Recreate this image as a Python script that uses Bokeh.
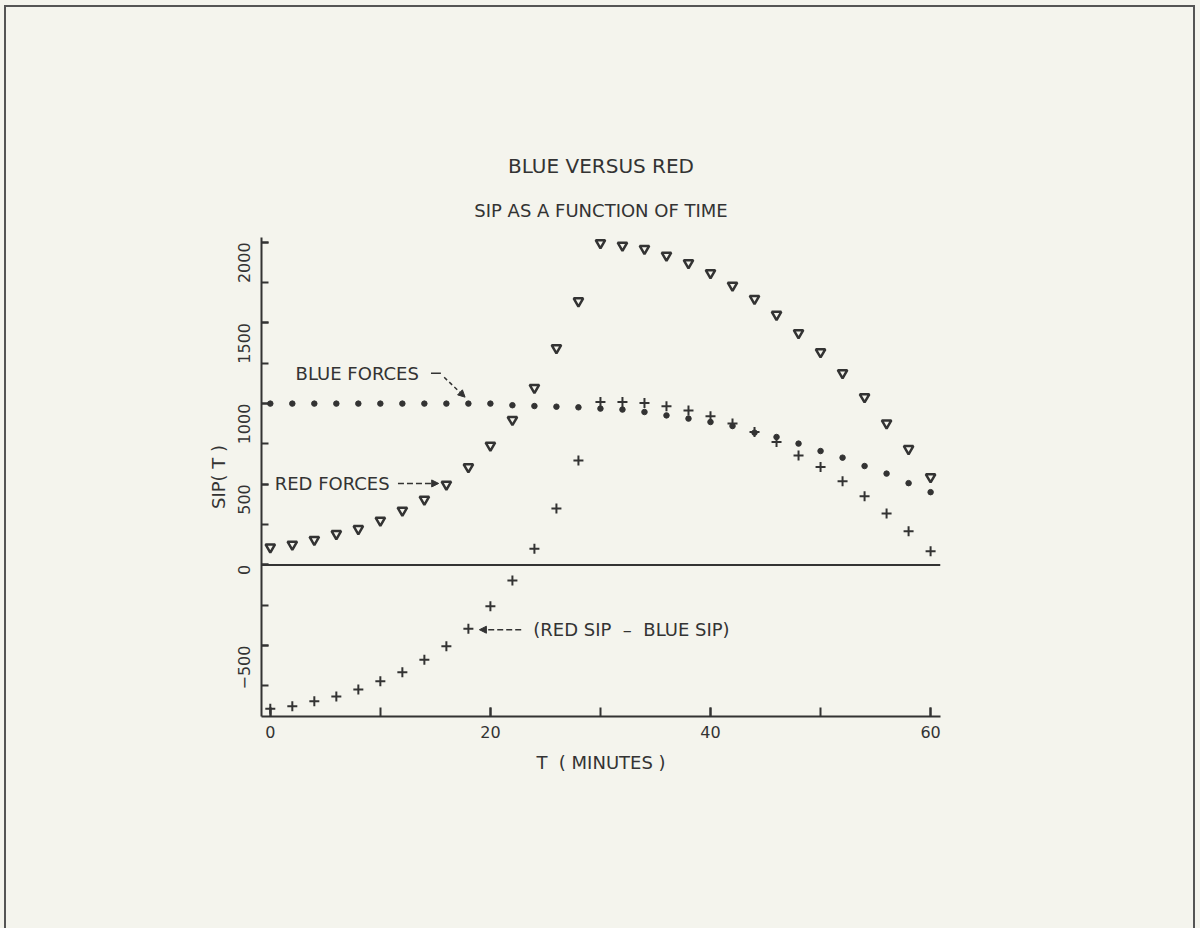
import math
from bokeh.plotting import figure
from bokeh.models import SingleIntervalTicker, Span, Label, Arrow, NormalHead, Range1d, Title
from bokeh.embed import file_html
from bokeh.resources import INLINE

# ---- data ----
t_minutes = [0, 2, 4, 6, 8, 10, 12, 14, 16, 18, 20, 22, 24, 26, 28, 30,
             32, 34, 36, 38, 40, 42, 44, 46, 48, 50, 52, 54, 56, 58, 60]
red_sip = [110, 127, 156, 193, 224, 276, 338, 406, 499, 607,
           741, 900, 1099, 1345, 1636,
           1996, 1981, 1961, 1919, 1872, 1810, 1733, 1651, 1552, 1438,
           1320, 1190, 1041, 879, 720, 545]
blue_sip = [1000, 1000, 1000, 1000, 1000, 1000, 1000, 1000, 1000, 1000, 1000,
            990, 985, 981, 977,
            969, 963, 948, 927, 907, 886, 861, 820, 793, 752,
            706, 665, 613, 566, 507, 451]
red_minus_blue = [-892, -876, -845, -816, -772, -721, -665, -588, -505, -396,
                  -257, -96, 100, 349, 648,
                  1010, 1010, 1004, 983, 958, 921, 876, 824, 762, 679,
                  607, 518, 425, 318, 208, 84]

INK = "#333333"
BG = "#f4f4ed"
FONT = "DejaVu Sans"

p = figure(width=1200, height=928, output_backend="svg", toolbar_location=None,
           x_range=Range1d(-0.8, 60.9), y_range=Range1d(-940, 2030),
           min_border_left=261, min_border_right=260,
           min_border_top=237, min_border_bottom=212)
p.background_fill_color = BG
p.border_fill_color = None
p.outline_line_color = None
p.grid.visible = False
p.styles = {
    "background-color": BG,
    "box-shadow": ("inset 4px 5px 0 0 %s, inset -5px 5px 0 0 %s, "
                   "inset 6px 7px 0 0 #555555, inset -7px 7px 0 0 #555555") % (BG, BG),
}

# axes
p.xaxis.ticker = SingleIntervalTicker(interval=20, num_minor_ticks=2)
p.yaxis.ticker = SingleIntervalTicker(interval=500, num_minor_ticks=2)
for ax in (p.xaxis[0], p.yaxis[0]):
    ax.axis_line_color = INK
    ax.axis_line_width = 2
    ax.major_tick_line_color = INK
    ax.minor_tick_line_color = INK
    ax.major_tick_line_width = 2
    ax.minor_tick_line_width = 2
    ax.major_tick_out = 0
    ax.minor_tick_out = 0
    ax.major_label_text_font = FONT
    ax.major_label_text_font_size = "16px"
    ax.major_label_text_color = INK
    ax.axis_label_text_font = FONT
    ax.axis_label_text_font_size = "18px"
    ax.axis_label_text_font_style = "normal"
    ax.axis_label_text_color = INK
p.xaxis.major_tick_in = 9
p.xaxis.minor_tick_in = 9
p.yaxis.major_tick_in = 7
p.yaxis.minor_tick_in = 7
p.yaxis.major_label_orientation = math.pi / 2
p.xaxis.major_label_standoff = 9
p.yaxis.major_label_standoff = 17
p.xaxis.axis_label = "T\u00a0\u00a0( MINUTES )"
p.yaxis.axis_label = "SIP( T )"
p.xaxis.axis_label_standoff = 11
p.yaxis.axis_label_standoff = 1

# titles (first added sits nearest the frame)
p.add_layout(Title(text="SIP AS A FUNCTION OF TIME", align="center", standoff=34,
                   text_font=FONT, text_font_size="18px", text_font_style="normal",
                   text_color=INK), "above")
p.add_layout(Title(text="BLUE VERSUS RED", align="center", standoff=6,
                   text_font=FONT, text_font_size="20px", text_font_style="normal",
                   text_color=INK), "above")

# zero line
p.add_layout(Span(location=0, dimension="width", line_color=INK, line_width=2))

# series
p.scatter(t_minutes, red_sip, marker="inverted_triangle", size=9.5,
          fill_color=BG, line_color=INK, line_width=2.5)
p.scatter(t_minutes, blue_sip, marker="circle", size=5.5,
          fill_color=INK, line_color=INK)
p.scatter(t_minutes, red_minus_blue, marker="cross", size=10,
          line_color=INK, line_width=2)

# annotations
def note(x, y, s):
    p.add_layout(Label(x=x, y=y, text=s, text_align="left", text_baseline="middle",
                       text_font=FONT, text_font_size="18px", text_color=INK))

def head():
    return NormalHead(size=7, fill_color=INK, line_color=INK)

note(2.3, 1188, "BLUE FORCES")
p.add_layout(Arrow(end=None, x_start=14.6, y_start=1188, x_end=15.5, y_end=1188,
                   line_color=INK, line_width=1.5))
p.add_layout(Arrow(end=head(), x_start=15.8, y_start=1163, x_end=17.7, y_end=1040,
                   line_color=INK, line_width=1.5, line_dash="4 3"))

note(0.4, 505, "RED FORCES")
p.add_layout(Arrow(end=head(), x_start=11.6, y_start=505, x_end=15.3, y_end=505,
                   line_color=INK, line_width=1.5, line_dash="6 3"))

note(23.9, -402, "(RED SIP\u00a0\u00a0\u2013\u00a0\u00a0BLUE SIP)")
p.add_layout(Arrow(end=head(), x_start=22.8, y_start=-402, x_end=19.0, y_end=-402,
                   line_color=INK, line_width=1.5, line_dash="6 3"))

open("out.html", "w").write(file_html(p, INLINE))
